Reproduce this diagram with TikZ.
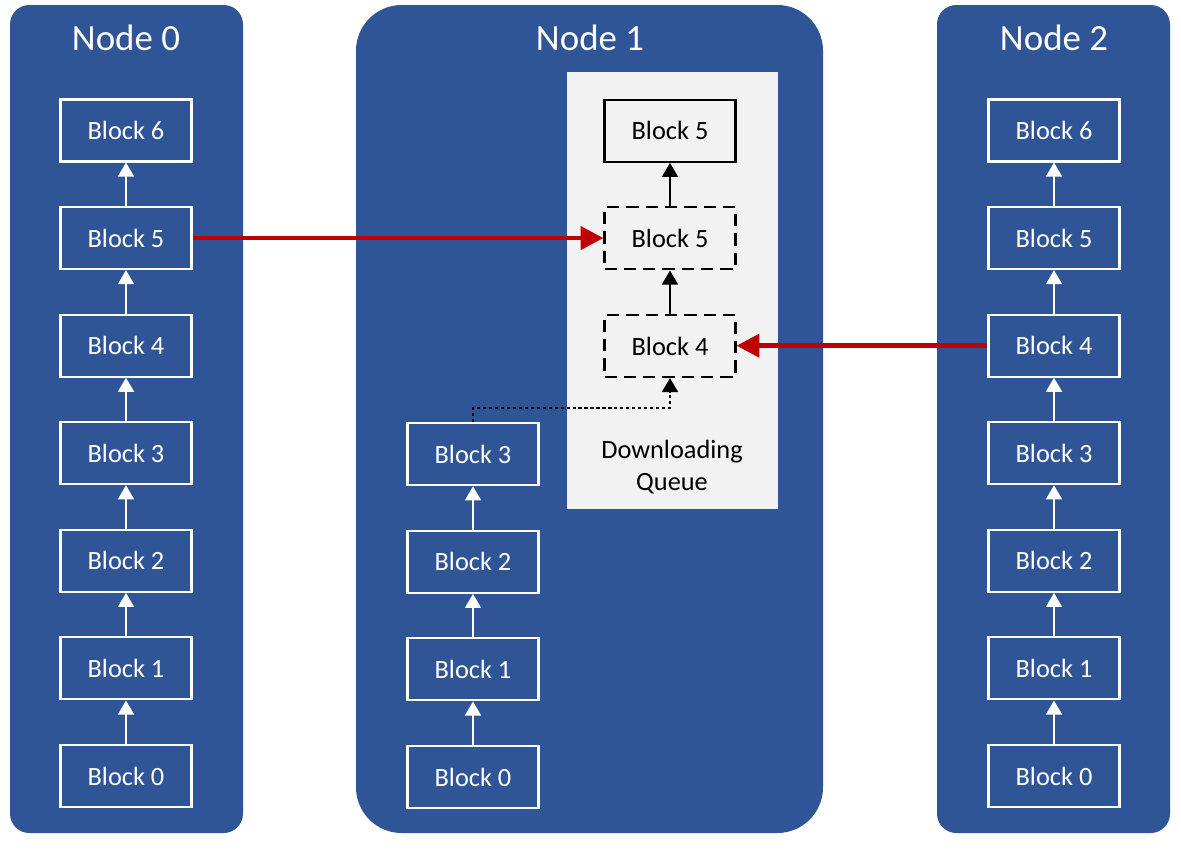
\documentclass[tikz,border=0pt]{standalone}
\usepackage{fontspec}
\setmainfont{Carlito}
\usetikzlibrary{arrows.meta, positioning}
\definecolor{cPanel}{RGB}{47,85,151}
\definecolor{cRed}{RGB}{192,0,0}
\definecolor{cQueue}{RGB}{242,242,242}
\tikzset{
	panel/.style  ={fill=cPanel, rounded corners=11pt},
	title/.style  ={text=white, font=\fontsize{21}{25}\selectfont},
	blk/.style    ={rectangle, draw=white, line width=1.2pt, minimum width=2.62cm, minimum height=1.24cm, text=white, font=\fontsize{15}{18}\selectfont},
	qblk/.style   ={blk, draw=black, text=black},
	qdash/.style  ={qblk, dash pattern=on 7pt off 4pt},
	chain/.style  ={-{Triangle[length=8pt, width=9pt]}, white, line width=1.2pt},
	qchain/.style ={chain, black},
	fetch/.style  ={-{Triangle[length=13pt, width=13pt]}, cRed, line width=2.6pt},
	dotline/.style={-{Triangle[length=8pt, width=9pt]}, black, line width=1.4pt, dash pattern=on 1.8pt off 1.6pt},
}
\begin{document}
\begin{tikzpicture}[x=0.02cm, y=-0.02cm, node distance=0.87cm]
	\useasboundingbox (0,0) rectangle (1181,850);
	% three peers
	\fill[panel] (10,5) rectangle (243,833);
	\fill[panel, rounded corners=26pt] (356,5) rectangle (823,833);
	\fill[panel] (937,5) rectangle (1170,833);
	\node[title] (t0) at (126,38) {Node 0};
	\node[title] (t1) at (590,38) {Node 1};
	\node[title] (t2) at (1054,38) {Node 2};
	\fill[cQueue] (567,72) rectangle (778,509);
	% chains of Node 0 and Node 2
	\node[blk] (a0) at (126,776) {Block 0};
	\node[blk] (c0) at (1054,776) {Block 0};
	\foreach \i [evaluate=\i as \j using int(\i-1)] in {1,...,6} {
		\node[blk, above=of a\j] (a\i) {Block \i};
		\node[blk, above=of c\j] (c\i) {Block \i};
		\draw[chain] (a\j) -- (a\i); \draw[chain] (c\j) -- (c\i);
	}
	% chain of Node 1
	\node[blk] (b0) at (473,777) {Block 0};
	\foreach \i [evaluate=\i as \j using int(\i-1)] in {1,...,3} {
		\node[blk, above=of b\j] (b\i) {Block \i};
		\draw[chain] (b\j) -- (b\i);
	}
	% downloading queue
	\node[qdash] (q4) at (670,346) {Block 4};
	\node[qdash, above=of q4] (q5) {Block 5};
	\node[qblk, above=of q5] (q6) {Block 5};
	\draw[qchain] (q4) -- (q5); \draw[qchain] (q5) -- (q6);
	\node[align=center, font=\fontsize{15}{18}\selectfont] (dq) at (672,467) {Downloading\\ Queue};
	\draw[dotline] (b3.north) -- ++(0,-14) -| (q4.south);
	\draw[fetch] (a5) -- (a5 -| q5.west); \draw[fetch] (c4) -- (c4 -| q4.east);
\end{tikzpicture}
\end{document}
